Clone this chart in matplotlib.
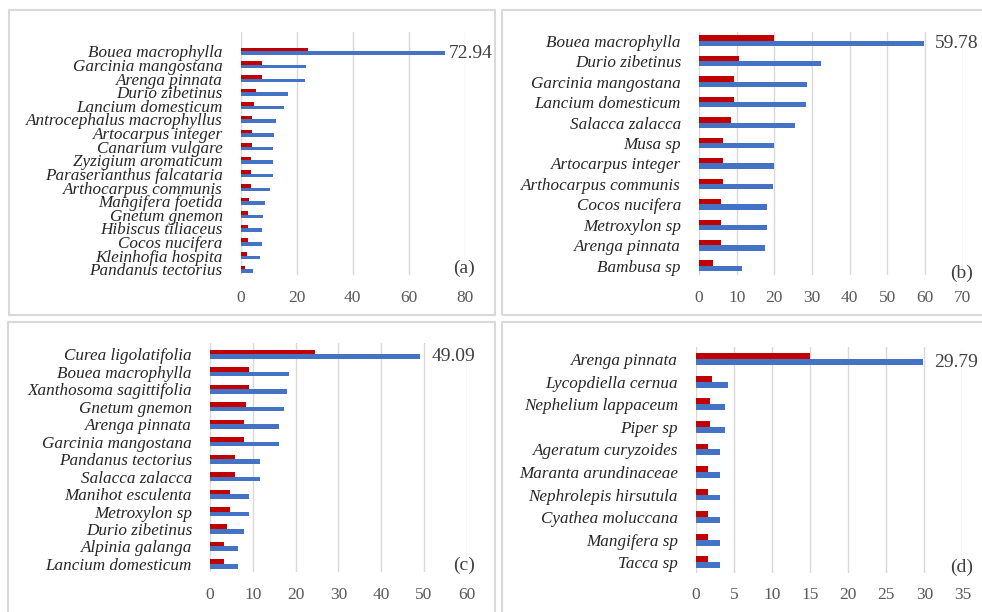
import matplotlib
matplotlib.use('Agg')
import matplotlib.pyplot as plt
from matplotlib.patches import Rectangle

W, H = 982, 612

# (a)
a_names = ['Bouea macrophylla', 'Garcinia mangostana', 'Arenga pinnata', 'Durio zibetinus',
           'Lancium domesticum', 'Antrocephalus macrophyllus', 'Artocarpus integer',
           'Canarium vulgare', 'Zyzigium aromaticum', 'Paraserianthus falcataria',
           'Arthocarpus communis', 'Mangifera foetida', 'Gnetum gnemon', 'Hibiscus tiliaceus',
           'Cocos nucifera', 'Kleinhofia hospita', 'Pandanus tectorius']
a_red = [24.2, 7.6, 7.6, 5.5, 4.8, 4.2, 3.9, 3.9, 3.5, 3.5, 3.5, 2.8, 2.5, 2.5, 2.5, 2.1, 1.5]
a_blue = [72.94, 23.4, 23.1, 16.9, 15.5, 12.7, 11.8, 11.4, 11.4, 11.4, 10.6, 8.6, 7.9, 7.5, 7.5, 6.9, 4.5]

# (b)
b_names = ['Bouea macrophylla', 'Durio zibetinus', 'Garcinia mangostana', 'Lancium domesticum',
           'Salacca zalacca', 'Musa sp', 'Artocarpus integer', 'Arthocarpus communis',
           'Cocos nucifera', 'Metroxylon sp', 'Arenga pinnata', 'Bambusa sp']
b_red = [19.8, 10.7, 9.4, 9.4, 8.4, 6.5, 6.5, 6.3, 5.8, 5.8, 5.8, 3.7]
b_blue = [59.78, 32.5, 28.8, 28.3, 25.5, 20.0, 20.0, 19.6, 18.0, 18.0, 17.4, 11.5]

# (c)
c_names = ['Curea ligolatifolia', 'Bouea macrophylla', 'Xanthosoma sagittifolia', 'Gnetum gnemon',
           'Arenga pinnata', 'Garcinia mangostana', 'Pandanus tectorius', 'Salacca zalacca',
           'Manihot esculenta', 'Metroxylon sp', 'Durio zibetinus', 'Alpinia galanga',
           'Lancium domesticum']
c_red = [24.5, 9.2, 9.0, 8.5, 8.0, 8.0, 5.8, 5.8, 4.6, 4.6, 3.9, 3.3, 3.3]
c_blue = [49.09, 18.5, 18.1, 17.4, 16.1, 16.1, 11.7, 11.7, 9.1, 9.1, 8.0, 6.6, 6.6]

# (d)
d_names = ['Arenga pinnata', 'Lycopdiella cernua', 'Nephelium lappaceum', 'Piper sp',
           'Ageratum curyzoides', 'Maranta arundinaceae', 'Nephrolepis hirsutula',
           'Cyathea moluccana', 'Mangifera sp', 'Tacca sp']
d_red = [15.0, 2.1, 1.8, 1.8, 1.6, 1.6, 1.6, 1.6, 1.6, 1.6]
d_blue = [29.79, 4.2, 3.8, 3.8, 3.2, 3.2, 3.2, 3.2, 3.2, 3.2]

RED = '#c00000'
BLUE = '#4472c4'
GRID = '#d9d9d9'
SERIF = 'Liberation Serif'


def px_axes(fig, left, top, right, bottom):
    return fig.add_axes([left / W, 1 - bottom / H, (right - left) / W, (bottom - top) / H])


def panel(fig, box, names, red, blue, xmax, step, ylim, tick_pad, lab_off):
    ax = px_axes(fig, *box)
    n = len(names)
    pos = list(range(n))
    h = 0.26
    ax.barh([p - h / 2 for p in pos], red, height=h, color=RED, zorder=3)
    ax.barh([p + h / 2 for p in pos], blue, height=h, color=BLUE, zorder=3)
    ax.set_xlim(0, xmax)
    ax.set_ylim(*ylim)
    ax.set_xticks(list(range(0, xmax + 1, step)))
    ax.set_yticks(pos)
    ax.set_yticklabels(names, fontsize=12.3, fontstyle='italic', family=SERIF, color='#262626')
    ax.tick_params(axis='y', length=0, pad=13)
    ax.tick_params(axis='x', length=0, pad=tick_pad, labelsize=12.5, labelcolor='#595959')
    for lab in ax.get_xticklabels():
        lab.set_family(SERIF)
    for s in ax.spines.values():
        s.set_visible(False)
    ax.xaxis.grid(True, color=GRID, linewidth=1.0, zorder=0)
    ax.set_axisbelow(True)
    ax.patch.set_alpha(0)
    # value label on the longest bar
    ax.annotate(f'{blue[0]:.2f}', (blue[0], h / 2), xytext=(lab_off, 0), textcoords='offset points',
                va='center', ha='left', fontsize=14, color='#404040', family=SERIF)
    return ax


fig = plt.figure(figsize=(W / 100, H / 100), dpi=100)

# panel frames
for (l, t, r, b) in [(9, 10, 495, 315), (502, 10, 990, 315), (8, 322, 495, 620), (502, 322, 990, 620)]:
    fig.patches.append(Rectangle((l / W, 1 - b / H), (r - l) / W, (b - t) / H,
                                 transform=fig.transFigure, fill=False,
                                 edgecolor='#d9d9d9', linewidth=1.5))

panel(fig, (240.7, 31.7, 464.7, 275), a_names, a_red, a_blue, 80, 20, (16.42, -1.44), 11, 3)
panel(fig, (699, 31.7, 962.7, 275), b_names, b_red, b_blue, 70, 10, (11.45, -0.44), 11, 8)
panel(fig, (210, 343, 466.8, 572), c_names, c_red, c_blue, 60, 10, (12.46, -0.65), 11, 8)
panel(fig, (696, 346.7, 962.4, 573.3), d_names, d_red, d_blue, 35, 5, (9.49, -0.55), 10, 8)

# panel tags
for tag, x, y in [('(a)', 475, 268), ('(b)', 973, 273), ('(c)', 475, 565), ('(d)', 973, 567)]:
    fig.text(x / W, 1 - y / H, tag, ha='right', va='center', fontsize=14,
             color='#404040', family=SERIF)

plt.savefig('out.png', dpi=100)
